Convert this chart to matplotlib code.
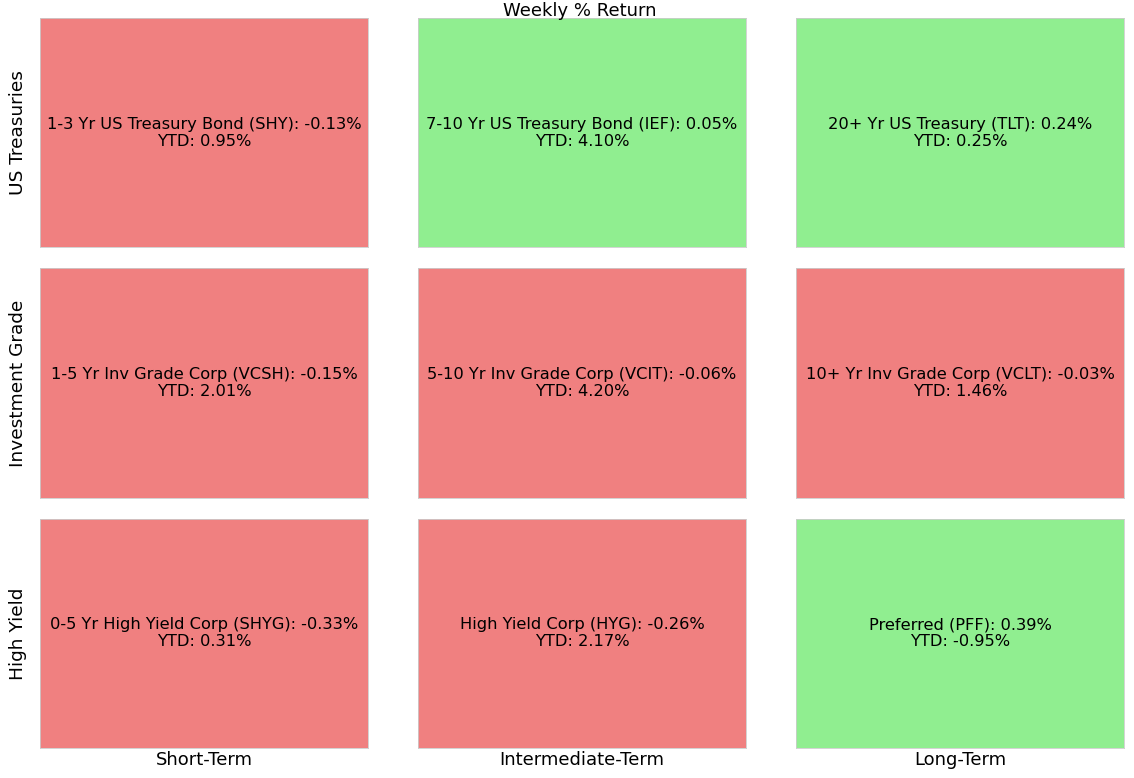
import matplotlib.pyplot as plt
import numpy as np

rows = ["US Treasuries", "Investment Grade", "High Yield"]
cols = ["Short-Term", "Intermediate-Term", "Long-Term"]

names = [
    ["1-3 Yr US Treasury Bond (SHY)", "7-10 Yr US Treasury Bond (IEF)", "20+ Yr US Treasury (TLT)"],
    ["1-5 Yr Inv Grade Corp (VCSH)", "5-10 Yr Inv Grade Corp (VCIT)", "10+ Yr Inv Grade Corp (VCLT)"],
    ["0-5 Yr High Yield Corp (SHYG)", "High Yield Corp (HYG)", "Preferred (PFF)"],
]
weekly = [
    [-0.13, 0.05, 0.24],
    [-0.15, -0.06, -0.03],
    [-0.33, -0.26, 0.39],
]
ytd = [
    [0.95, 4.10, 0.25],
    [2.01, 4.20, 1.46],
    [0.31, 2.17, -0.95],
]

fig, axes = plt.subplots(3, 3, figsize=(11.34, 7.78), dpi=100)
fig.subplots_adjust(left=40/1134, right=1124/1134, top=1-18/778, bottom=1-748/778,
                    wspace=0.152, hspace=0.0915)

for i in range(3):
    for j in range(3):
        ax = axes[i, j]
        color = 'lightgreen' if weekly[i][j] > 0 else 'lightcoral'
        ax.set_facecolor(color)
        ax.set_xticks([])
        ax.set_yticks([])
        for s in ax.spines.values():
            s.set_color('#cccccc')
            s.set_linewidth(0.6)
        ax.text(0.5, 0.5, "%s: %.2f%%\nYTD: %.2f%%" % (names[i][j], weekly[i][j], ytd[i][j]),
                ha='center', va='center', fontsize=11.7, linespacing=1.15,
                transform=ax.transAxes)
        if j == 0:
            ax.set_ylabel(rows[i], fontsize=13.3, labelpad=9)
        if i == 2:
            ax.set_xlabel(cols[j], fontsize=13, labelpad=2)

fig.text(580/1134, 1-11/778, "Weekly % Return", ha='center', va='center', fontsize=13)

plt.savefig('out.png', dpi=100)
